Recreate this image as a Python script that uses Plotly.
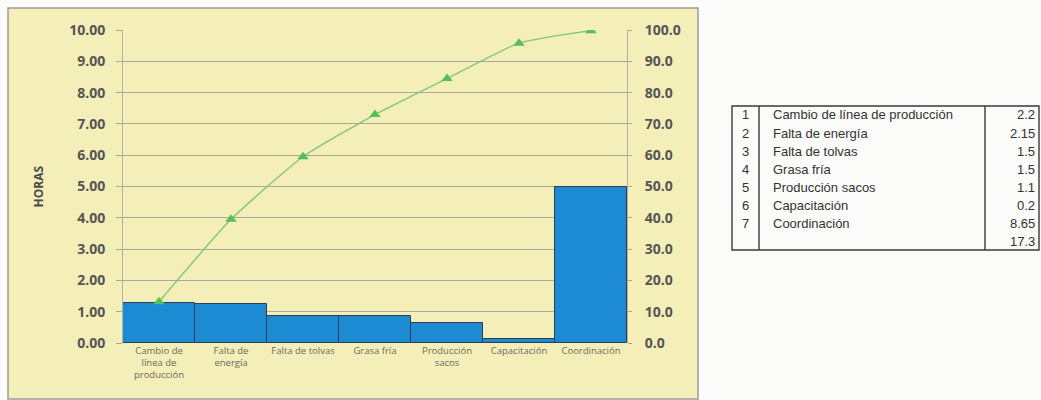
import plotly.graph_objects as go

# ---------------- data ----------------
categories = ["Cambio de<br>línea de<br>producción", "Falta de<br>energía", "Falta de tolvas",
              "Grasa fría", "Producción<br>sacos", "Capacitación", "Coordinación"]
bar_values = [1.27, 1.24, 0.87, 0.87, 0.64, 0.12, 5.00]
cum_pct = [13.2, 39.5, 59.5, 73.0, 84.5, 95.8, 99.8]

left_ticks = [0, 1, 2, 3, 4, 5, 6, 7, 8, 9, 10]
right_ticks = [0, 10, 20, 30, 40, 50, 60, 70, 80, 90, 100]

tbl_num = ["1", "2", "3", "4", "5", "6", "7"]
tbl_name = ["Cambio de línea de producción", "Falta de energía", "Falta de tolvas",
            "Grasa fría", "Producción sacos", "Capacitación", "Coordinación"]
tbl_val = ["2.2", "2.15", "1.5", "1.5", "1.1", "0.2", "8.65"]
tbl_total = "17.3"

# ---------------- layout geometry (pixels) ----------------
W, H = 1041, 400
L, R, T, B = 123, 627, 30, 343


def px(x):
    return (x - L) / (R - L)


def py(y):
    return (B - y) / (B - T)


fig = go.Figure()
fig.add_trace(go.Bar(
    x=categories, y=bar_values,
    marker=dict(color="#1c8bd4", line=dict(color="#2c3e50", width=1)),
    yaxis="y", showlegend=False,
))
fig.add_trace(go.Scatter(
    x=categories, y=cum_pct, yaxis="y2", mode="lines+markers",
    line=dict(color="#86c578", width=1.4, shape="spline", smoothing=0.5),
    marker=dict(symbol="triangle-up", size=10, color="#55c05a"),
    showlegend=False,
))

shapes = []
# yellow chart panel
shapes.append(dict(type="rect", xref="paper", yref="paper",
                   x0=px(8), x1=px(698), y0=py(8), y1=py(399),
                   fillcolor="#f4eeb9", line=dict(color="#9c9c98", width=1.5), layer="below"))

# table frame
tx0, tx1, ty0, ty1 = 732, 1039, 106, 250
shapes.append(dict(type="rect", xref="paper", yref="paper",
                   x0=px(tx0), x1=px(tx1), y0=py(ty0), y1=py(ty1),
                   line=dict(color="#3a3a3a", width=1.4)))
for vx in (759, 985):
    shapes.append(dict(type="line", xref="paper", yref="paper",
                       x0=px(vx), x1=px(vx), y0=py(ty0), y1=py(ty1),
                       line=dict(color="#3a3a3a", width=1.4)))

annotations = []
tfont = dict(family="Liberation Sans, Arial", size=13, color="#333333")
row0, rowh = 115, 18
for i in range(len(tbl_num)):
    yy = py(row0 + rowh * i)
    annotations.append(dict(x=px(745), y=yy, xref="paper", yref="paper", text=tbl_num[i],
                            showarrow=False, xanchor="center", yanchor="middle", font=tfont))
    annotations.append(dict(x=px(771), y=yy, xref="paper", yref="paper", text=tbl_name[i],
                            showarrow=False, xanchor="left", yanchor="middle", font=tfont))
    annotations.append(dict(x=px(1037), y=yy, xref="paper", yref="paper", text=tbl_val[i],
                            showarrow=False, xanchor="right", yanchor="middle", font=tfont))
annotations.append(dict(x=px(1037), y=py(row0 + rowh * len(tbl_num)), xref="paper", yref="paper",
                        text=tbl_total, showarrow=False, xanchor="right", yanchor="middle", font=tfont))

# HORAS axis title
annotations.append(dict(x=px(38), y=py((T + B) / 2), xref="paper", yref="paper", text="HORAS",
                        textangle=-90, showarrow=False, xanchor="center", yanchor="middle",
                        font=dict(family="Open Sans", size=12, color="#4a4a4a", weight="bold")))

tickfont = dict(family="Open Sans", size=14, color="#555555", weight="bold")

fig.update_layout(
    width=W, height=H,
    margin=dict(l=L, r=W - R, t=T, b=H - B, pad=0),
    paper_bgcolor="#fbfbf9",
    plot_bgcolor="rgba(0,0,0,0)",
    bargap=0,
    shapes=shapes,
    annotations=annotations,
    xaxis=dict(
        tickfont=dict(family="Open Sans", size=9.5, color="#6b6a5c"),
        showgrid=False, showline=False, ticks="", tickangle=0,
        fixedrange=True,
    ),
    yaxis=dict(
        range=[0, 10], tickvals=left_ticks, tickformat=".2f",
        showgrid=True, gridcolor="#a9a89a", gridwidth=1,
        showline=True, linecolor="#b0b0a4", linewidth=1,
        ticks="outside", ticklen=6, tickcolor="#a9a89a",
        ticklabelstandoff=8, tickfont=tickfont, zeroline=False,
    ),
    yaxis2=dict(
        range=[0, 100], tickvals=right_ticks, tickformat=".1f",
        overlaying="y", side="right", showgrid=False,
        showline=True, linecolor="#b0b0a4", linewidth=1,
        ticks="outside", ticklen=4, tickcolor="#a9a89a",
        ticklabelstandoff=10, tickfont=tickfont, zeroline=False,
    ),
)

fig.write_html("out.html")
